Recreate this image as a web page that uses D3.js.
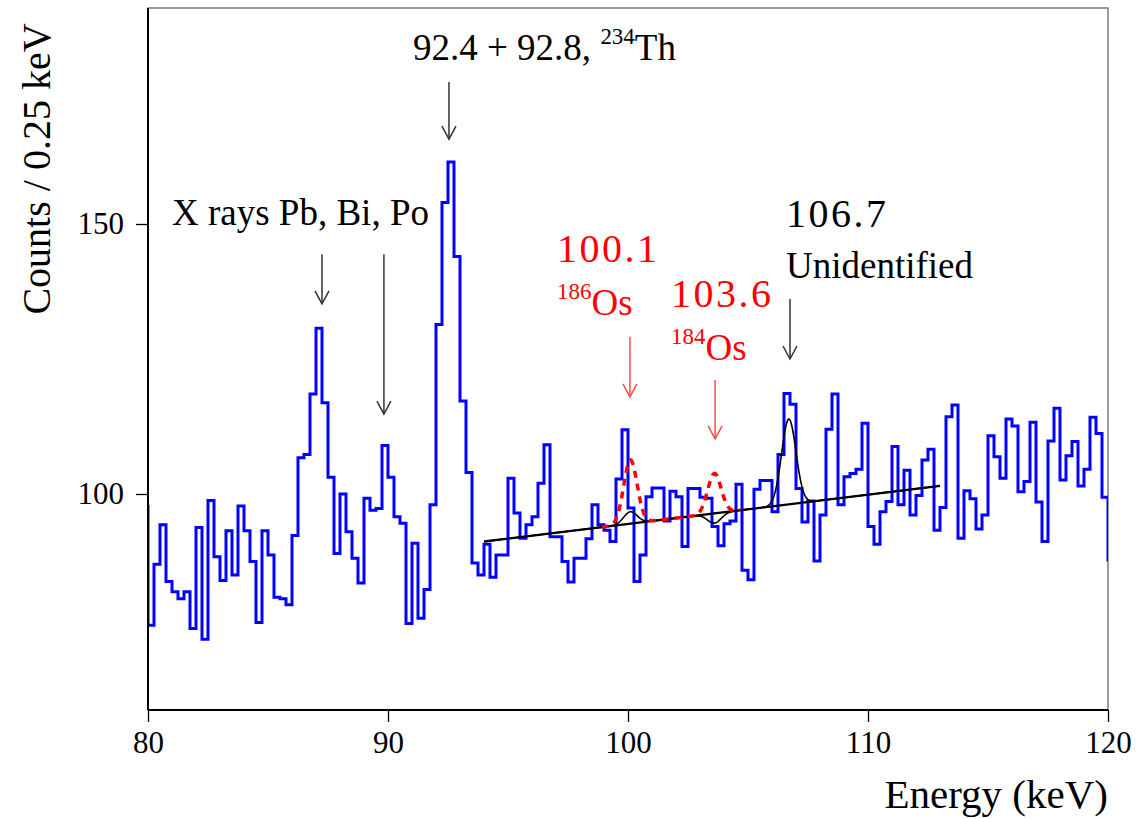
<!DOCTYPE html>
<html>
<head>
<meta charset="utf-8">
<script src="https://cdn.jsdelivr.net/npm/d3@7"></script>
<style>
  body { margin: 0; background: #fff; }
  text { font-family: "Liberation Serif", "Times New Roman", serif; }
</style>
</head>
<body>
<svg id="chart" width="1137" height="819"></svg>
<script>
// Counts per 0.25 keV bin, 80.00 .. 119.75 keV (160 bins)
const counts = [
  75.7, 87.0, 94.3, 83.8, 81.9, 80.6, 81.9, 75.1, 93.8, 73.1,
  98.8, 88.4, 84.0, 93.2, 85.0, 97.8, 93.2, 87.5, 76.2, 93.2,
  88.7, 80.9, 80.6, 79.5, 92.3, 106.7, 107.3, 118.5, 130.7, 116.9,
  103.1, 89.0, 100.0, 93.0, 88.1, 83.5, 99.2, 97.0, 97.3, 109.0,
  103.1, 95.8, 94.6, 76.0, 90.9, 77.0, 82.3, 98.0, 131.4, 154.0,
  161.5, 144.0, 117.2, 104.0, 87.2, 85.0, 90.7, 84.6, 88.7, 88.7,
  102.9, 96.5, 91.8, 94.3, 95.8, 102.0, 109.1, 92.1, 92.1, 87.5,
  83.7, 88.1, 88.1, 91.7, 98.0, 94.3, 93.3, 91.2, 102.8, 111.9,
  97.4, 83.8, 88.7, 99.5, 101.1, 101.1, 95.0, 100.5, 99.5, 90.3,
  101.0, 101.0, 99.4, 99.2, 94.0, 90.4, 94.5, 95.0, 101.8, 85.9,
  84.1, 100.9, 102.5, 102.5, 96.7, 107.3, 118.6, 116.6, 101.0, 94.8,
  98.7, 87.6, 96.1, 112.0, 118.5, 98.0, 103.2, 103.8, 104.6, 113.1,
  94.0, 90.7, 96.7, 98.6, 108.8, 98.0, 104.4, 96.1, 99.7, 106.3,
  108.3, 93.3, 97.5, 114.3, 116.5, 91.8, 100.6, 99.1, 93.5, 96.1,
  110.8, 106.9, 102.9, 113.9, 112.6, 100.4, 102.3, 113.3, 98.5, 91.2,
  109.8, 115.9, 102.6, 107.1, 109.7, 101.5, 104.6, 114.2, 111.2, 99.4
];
// neighbouring bins just outside the drawn range (give the edge verticals)
const binBefore = 97.7;
const binAfter = 87.8;
const binWidth = 0.25;
const xDomain = [80, 120];
const yDomain = [60, 190];
const xMajor = [80, 90, 100, 110, 120];
const yMajor = [100, 150];

// fit: linear background + gaussians
const bkgE = [94, 113];
const bkgC = [91.2, 101.5];
const fitPeaks = [
  { e: 100.1, amp: 2.2, sigma: 0.28 },
  { e: 103.6, amp: -1.8, sigma: 0.28 },
  { e: 106.7, amp: 15.8, sigma: 0.3 }
];
// expected Os lines (red dashed)
const osE = [98.9, 104.7];
const osPeaks = [
  { e: 100.1, amp: 11.8, sigma: 0.28 },
  { e: 103.6, amp: 7.4, sigma: 0.28 }
];

// arrows: x in keV, from / to in counts
const arrows = [
  { e: 92.54, y0: 176.3, y1: 165.7, color: "#333" },
  { e: 87.25, y0: 144.4, y1: 135.2, color: "#333" },
  { e: 89.83, y0: 144.4, y1: 114.8, color: "#333" },
  { e: 100.08, y0: 129.1, y1: 118.0, color: "#ff4a4a" },
  { e: 103.63, y0: 121.1, y1: 110.2, color: "#ff4a4a" },
  { e: 106.75, y0: 136.1, y1: 125.0, color: "#333" }
];

const margin = { left: 148, top: 8, right: 29, bottom: 109 };
const W = 1137, H = 819;
const plotW = W - margin.left - margin.right;
const plotH = H - margin.top - margin.bottom;

const svg = d3.select("#chart");
const x = d3.scaleLinear().domain(xDomain).range([margin.left, margin.left + plotW]);
const y = d3.scaleLinear().domain(yDomain).range([margin.top + plotH, margin.top]);

svg.append("defs").append("clipPath").attr("id", "plot-clip")
  .append("rect")
  .attr("x", margin.left).attr("y", margin.top)
  .attr("width", plotW).attr("height", plotH);

// histogram
const pts = [[xDomain[0] - binWidth, binBefore]];
counts.forEach((c, i) => pts.push([xDomain[0] + i * binWidth, c]));
pts.push([xDomain[1], binAfter]);
pts.push([xDomain[1] + binWidth, binAfter]);

const stepLine = d3.line()
  .x((d) => x(d[0]))
  .y((d) => y(d[1]))
  .curve(d3.curveStepAfter);

// frame (top / right edges are lighter in the original)
svg.append("rect")
  .attr("x", margin.left).attr("y", margin.top)
  .attr("width", plotW).attr("height", plotH)
  .attr("fill", "none").attr("stroke", "#666").attr("stroke-width", 1.3);

svg.append("path")
  .datum(pts)
  .attr("clip-path", "url(#plot-clip)")
  .attr("fill", "none")
  .attr("stroke", "#0000ff")
  .attr("stroke-width", 3)
  .attr("d", stepLine);

// fit curves
const bkg = (e) => bkgC[0] + (e - bkgE[0]) * (bkgC[1] - bkgC[0]) / (bkgE[1] - bkgE[0]);
const gaus = (e, p) => p.amp * Math.exp(-0.5 * ((e - p.e) / p.sigma) ** 2);
const smooth = d3.line().x((d) => x(d[0])).y((d) => y(d[1]));

function sample(e0, e1, f) {
  const n = Math.round((e1 - e0) / 0.02);
  return d3.range(n + 1).map((k) => {
    const e = e0 + (k * (e1 - e0)) / n;
    return [e, f(e)];
  });
}

svg.append("path")
  .datum(bkgE.map((e) => [e, bkg(e)]))
  .attr("fill", "none").attr("stroke", "#000").attr("stroke-width", 2.4)
  .attr("d", smooth);

svg.append("path")
  .datum(sample(bkgE[0], bkgE[1], (e) => bkg(e) + d3.sum(fitPeaks, (p) => gaus(e, p))))
  .attr("fill", "none").attr("stroke", "#000").attr("stroke-width", 1.6)
  .attr("d", smooth);

svg.append("path")
  .datum(sample(osE[0], osE[1], (e) => bkg(e) + d3.sum(osPeaks, (p) => gaus(e, p))))
  .attr("fill", "none").attr("stroke", "#ff0000").attr("stroke-width", 3.5)
  .attr("stroke-dasharray", "7,6")
  .attr("d", smooth);

// axes
const fmt = (d) => d;
const xAxis = svg.append("g").attr("transform", `translate(0,${margin.top + plotH})`);
xAxis.call(d3.axisBottom(x).tickValues(d3.range(80, 121, 2)).tickSize(7).tickFormat(""));
xAxis.call(d3.axisBottom(x).tickValues(xMajor).tickSize(12).tickPadding(9).tickFormat(fmt));
xAxis.selectAll(".domain").remove();
xAxis.selectAll("line").attr("stroke", "#000").attr("stroke-width", 1.3);
xAxis.selectAll("text").attr("font-size", 31).attr("fill", "#000")
  .attr("font-family", "Liberation Serif");

const yAxis = svg.append("g").attr("transform", `translate(${margin.left},0)`);
yAxis.call(d3.axisLeft(y).tickValues(d3.range(60, 191, 10)).tickSize(7).tickFormat(""));
yAxis.call(d3.axisLeft(y).tickValues(yMajor).tickSize(12).tickPadding(12).tickFormat(fmt));
yAxis.selectAll(".domain").remove();
yAxis.selectAll("line").attr("stroke", "#000").attr("stroke-width", 1.3);
yAxis.selectAll("text").attr("font-size", 31).attr("fill", "#000")
  .attr("font-family", "Liberation Serif");

svg.append("line")
  .attr("x1", margin.left).attr("x2", margin.left)
  .attr("y1", margin.top).attr("y2", margin.top + plotH)
  .attr("stroke", "#000").attr("stroke-width", 2);
svg.append("line")
  .attr("x1", margin.left).attr("x2", margin.left + plotW)
  .attr("y1", margin.top + plotH).attr("y2", margin.top + plotH)
  .attr("stroke", "#000").attr("stroke-width", 2);

svg.append("text")
  .attr("transform", `translate(50,169) rotate(-90)`)
  .attr("text-anchor", "middle")
  .attr("font-size", 40)
  .text("Counts / 0.25 keV");

svg.append("text")
  .attr("x", margin.left + plotW).attr("y", 808)
  .attr("text-anchor", "end")
  .attr("font-size", 41)
  .text("Energy (keV)");

// arrows
arrows.forEach((a) => {
  const g = svg.append("g").attr("stroke", a.color).attr("stroke-width", 1.5).attr("fill", "none");
  const ax = x(a.e), ay0 = y(a.y0), ay1 = y(a.y1);
  g.append("line").attr("x1", ax).attr("x2", ax).attr("y1", ay0).attr("y2", ay1);
  g.append("path").attr("d", `M${ax - 7},${ay1 - 13} L${ax},${ay1} L${ax + 7},${ay1 - 13}`);
});

// labels (superscripts raised with dy, restored on the next run)
function label(px, py, parts, color, size, spacing = 0) {
  const t = svg.append("text").attr("x", px).attr("y", py).attr("font-size", size).attr("fill", color)
    .attr("letter-spacing", spacing);
  const shift = size * 0.42;
  let raised = false;
  parts.forEach((p) => {
    if (p.sup) {
      t.append("tspan").attr("dy", -shift).attr("font-size", size * 0.62).text(p.sup);
      raised = true;
    } else {
      t.append("tspan").attr("dy", raised ? shift : 0).text(p.t);
      raised = false;
    }
  });
}

label(413, 60, [{ t: "92.4 + 92.8, " }, { sup: "234" }, { t: "Th" }], "#000", 37);
label(172, 225, [{ t: "X rays Pb, Bi, Po" }], "#000", 37);
label(557, 262, [{ t: "100.1" }], "#ff0000", 40, 2.5);
label(557, 315, [{ sup: "186" }, { t: "Os" }], "#ff0000", 37);
label(671, 307, [{ t: "103.6" }], "#ff0000", 40, 2.5);
label(671, 360, [{ sup: "184" }, { t: "Os" }], "#ff0000", 37);
label(786, 227, [{ t: "106.7" }], "#000", 40, 2.5);
label(786, 278, [{ t: "Unidentified" }], "#000", 37);
</script>
</body>
</html>
